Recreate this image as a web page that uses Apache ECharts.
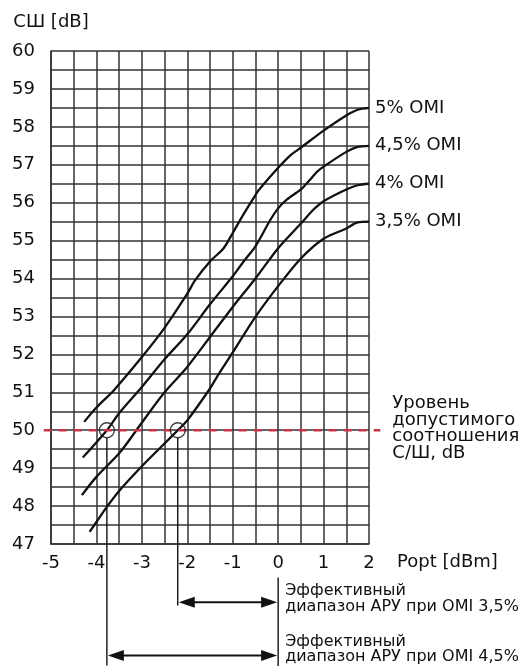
<!DOCTYPE html>
<html><head><meta charset="utf-8">
<script src="https://cdn.jsdelivr.net/npm/echarts@6/dist/echarts.min.js"></script>
<style>html,body{margin:0;padding:0;background:#fff}#c{width:520px;height:666px}</style>
</head><body><div id="c"></div>
<script>
// ---- data ----
const xTicks = [-5, -4, -3, -2, -1, 0, 1, 2];
const yTicks = [47, 48, 49, 50, 51, 52, 53, 54, 55, 56, 57, 58, 59, 60];
const seriesNames = ['5% OMI', '4,5% OMI', '4% OMI', '3,5% OMI'];
const omi50 = [[-4.27,50.22],[-4.0,50.6],[-3.62,51.05],[-3.0,51.93],[-2.5,52.7],[-2.0,53.6],[-1.83,53.95],[-1.5,54.45],[-1.2,54.8],[-1.0,55.2],[-0.76,55.7],[-0.5,56.2],[-0.43,56.33],[0,56.92],[0.27,57.25],[0.5,57.45],[1.0,57.9],[1.5,58.3],[1.75,58.45],[2.0,58.5]];
const omi45 = [[-4.3,49.28],[-3.77,50.0],[-3.5,50.45],[-3.0,51.14],[-2.5,51.87],[-2.0,52.53],[-1.5,53.32],[-1.0,54.06],[-0.76,54.45],[-0.5,54.85],[-0.17,55.55],[0,55.85],[0.19,56.08],[0.5,56.35],[0.71,56.62],[0.86,56.82],[1.0,56.95],[1.5,57.34],[1.75,57.47],[2.0,57.5]];
const omi40 = [[-4.32,48.29],[-4.0,48.77],[-3.5,49.39],[-3.12,50.0],[-3.0,50.2],[-2.5,51.0],[-2.0,51.67],[-1.5,52.46],[-1.0,53.25],[-0.5,54.0],[0,54.8],[0.5,55.45],[0.78,55.82],[1.0,56.04],[1.5,56.35],[1.75,56.46],[2.0,56.5]];
const omi35 = [[-4.15,47.32],[-4.0,47.58],[-3.77,47.98],[-3.5,48.4],[-3.0,49.05],[-2.5,49.65],[-2.21,50.0],[-2.0,50.26],[-1.5,51.1],[-1.35,51.4],[-1.0,52.05],[-0.5,52.99],[0,53.8],[0.5,54.53],[1.0,55.05],[1.5,55.32],[1.75,55.48],[2.0,55.5]];
const snrLimit = 50;
const limitSpan = [-5.16, 2.25];
const limitLabel = 'Уровень\nдопустимого\nсоотношения\nС/Ш, dB';
const agcPoints = [[-3.77, 50], [-2.21, 50]];
const agcRanges = [[-2.21, 0], [-3.77, 0]];
const rangeLabels = ['Эффективный\nдиапазон АРУ при OMI 3,5%', 'Эффективный\nдиапазон АРУ при OMI 4,5%'];

// ---- chart ----
const FONT = 'DejaVu Sans';
const INK = '#111';
const GRID = '#333';
const chart = echarts.init(document.getElementById('c'), null, {renderer: 'canvas'});

const curves = [omi50, omi45, omi40, omi35].map((d, i) => ({
  type: 'line', name: seriesNames[i], data: d, smooth: 0.3, symbol: 'none',
  lineStyle: {color: INK, width: 2.3}, z: 5, silent: true,
  endLabel: {show: true, formatter: '{a}', distance: 6, color: INK, fontSize: 18, fontFamily: FONT}
}));

const rowOffsets = [58.2, 111.5];
const vEndOffsets = [61.5, 121.5];
const textOffsets = [-3.5, -6];

chart.setOption({
  animation: false,
  textStyle: {fontFamily: FONT},
  grid: {left: 51, top: 51, right: 151, bottom: 122, containLabel: false},
  xAxis: {
    type: 'value', min: -5, max: 2, interval: 0.5,
    name: 'Popt [dBm]', nameLocation: 'end', nameGap: 28,
    nameTextStyle: {color: INK, fontSize: 18, fontFamily: FONT, verticalAlign: 'top', padding: [9, 0, 0, 0]},
    axisLine: {show: true, onZero: false, lineStyle: {color: GRID, width: 1.5}},
    axisTick: {show: false},
    axisLabel: {color: INK, fontSize: 18, margin: 10, fontFamily: FONT,
      formatter: v => xTicks.includes(v) ? String(v) : ''},
    splitLine: {show: true, lineStyle: {color: GRID, width: 1.5}}
  },
  yAxis: {
    type: 'value', min: 47, max: 60, interval: 0.5,
    name: 'СШ [dB]', nameLocation: 'end', nameGap: 20,
    nameTextStyle: {color: INK, fontSize: 18, fontFamily: FONT},
    axisLine: {show: true, onZero: false, lineStyle: {color: GRID, width: 1.5}},
    axisTick: {show: false},
    axisLabel: {color: INK, fontSize: 18, margin: 16, fontFamily: FONT,
      formatter: v => yTicks.includes(v) ? String(v) : ''},
    splitLine: {show: true, lineStyle: {color: GRID, width: 1.5}}
  },
  series: [
    ...curves,
    {
      type: 'custom', data: [[limitSpan[0], limitSpan[1], snrLimit]], clip: false, silent: true, z: 7,
      renderItem(params, api) {
        const a = api.coord([api.value(0), api.value(2)]);
        const b = api.coord([api.value(1), api.value(2)]);
        return {type: 'group', children: [
          {type: 'line', shape: {x1: a[0], y1: a[1], x2: b[0], y2: b[1]},
            style: {stroke: '#c8354b', lineWidth: 2.5, lineDash: [8, 7]}},
          {type: 'text', style: {text: limitLabel, x: b[0] + 12, y: b[1] - 2, align: 'left', verticalAlign: 'middle',
            fontSize: 18, fontFamily: FONT, lineHeight: 16.5, fill: INK}}
        ]};
      }
    },
    {
      type: 'scatter', data: agcPoints, symbol: 'circle', symbolSize: 15, z: 8, silent: true,
      itemStyle: {color: 'rgba(0,0,0,0)', borderColor: INK, borderWidth: 1.4}
    },
    {
      type: 'custom', data: agcRanges, clip: false, silent: true, z: 6,
      renderItem(params, api) {
        const i = params.dataIndex;
        const x0 = api.value(0), x1 = api.value(1);
        const p0 = api.coord([x0, snrLimit]);
        const p1 = api.coord([x1, snrLimit]);
        const bottom = api.coord([x0, 47])[1];
        const rowY = bottom + rowOffsets[i];
        const head = 16, half = 5.5;
        const ch = [];
        ch.push({type: 'line', shape: {x1: p0[0], y1: p0[1] + 7.5, x2: p0[0], y2: bottom + vEndOffsets[i]},
          style: {stroke: INK, lineWidth: 1.4}});
        if (i === 0) {
          ch.push({type: 'line', shape: {x1: p1[0], y1: bottom + 33.5, x2: p1[0], y2: bottom + 122},
            style: {stroke: INK, lineWidth: 1.4}});
        }
        ch.push({type: 'line', shape: {x1: p0[0] + head, y1: rowY, x2: p1[0] - head, y2: rowY},
          style: {stroke: INK, lineWidth: 2}});
        ch.push({type: 'polygon', shape: {points: [[p0[0] + 1, rowY], [p0[0] + 1 + head, rowY - half], [p0[0] + 1 + head, rowY + half]]},
          style: {fill: INK}});
        ch.push({type: 'polygon', shape: {points: [[p1[0] - 1, rowY], [p1[0] - 1 - head, rowY - half], [p1[0] - 1 - head, rowY + half]]},
          style: {fill: INK}});
        ch.push({type: 'text', style: {text: rangeLabels[i], x: p1[0] + 7, y: rowY + textOffsets[i],
          align: 'left', verticalAlign: 'middle', fontSize: 16, fontFamily: FONT, lineHeight: 15.5, fill: INK}});
        return {type: 'group', children: ch};
      }
    }
  ]
});
</script></body></html>
